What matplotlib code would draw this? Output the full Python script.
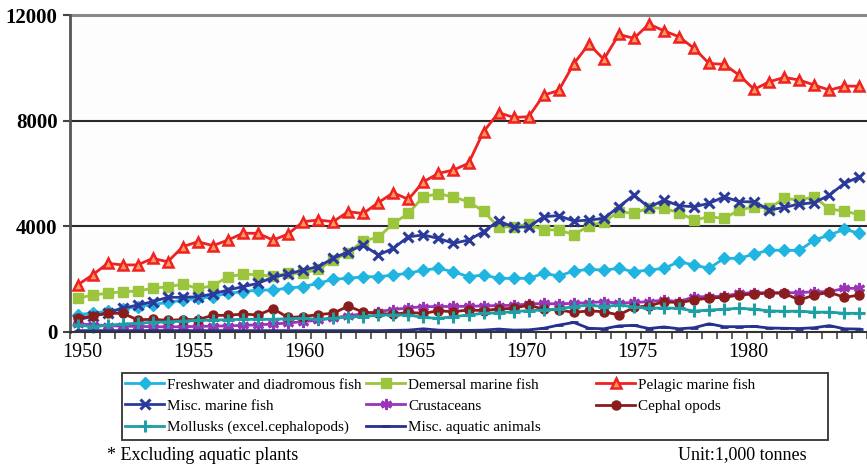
import numpy as np
import matplotlib.pyplot as plt
from matplotlib.patches import Rectangle

# catch by species group, 1,000 tonnes (one value per point on the category axis)
freshwater = [650, 700, 780, 860, 950, 1030, 1110, 1190, 1260, 1330, 1455, 1515, 1580, 1580, 1650,
              1710, 1830, 1990, 2020, 2083, 2083, 2148, 2212, 2337, 2400, 2273, 2083, 2148, 2022, 2022,
              2022, 2212, 2110, 2300, 2360, 2337, 2400, 2273, 2337, 2400, 2652, 2527, 2400, 2780, 2780,
              2943, 3094, 3080, 3080, 3473, 3663, 3879, 3727]
demersal = [1265, 1390, 1455, 1515, 1540, 1643, 1705, 1795, 1643, 1740, 2080, 2180, 2160, 2100, 2210,
            2210, 2370, 2700, 3000, 3440, 3576, 4100, 4484, 5114, 5230, 5100, 4924, 4565, 3960, 3980,
            4070, 3865, 3855, 3680, 4000, 4167, 4545, 4483, 4700, 4674, 4508, 4231, 4356, 4293, 4610,
            4735, 4674, 5052, 4988, 5114, 4636, 4583, 4420]
pelagic = [1770, 2150, 2590, 2530, 2530, 2780, 2650, 3220, 3410, 3260, 3470, 3730, 3730, 3470, 3700,
           4170, 4230, 4170, 4545, 4480, 4890, 5265, 5015, 5680, 6000, 6125, 6380, 7580, 8300, 8120,
           8145, 8965, 9140, 10150, 10900, 10320, 11265, 11115, 11655, 11400, 11175, 10735, 10165, 10130, 9720,
           9180, 9470, 9635, 9535, 9345, 9155, 9305, 9305]
misc_marine = [450, 580, 720, 886, 1011, 1136, 1303, 1303, 1326, 1428, 1580, 1705, 1833, 2060, 2186,
               2337, 2462, 2780, 3030, 3284, 2905, 3159, 3598, 3663, 3536, 3348, 3473, 3788, 4205, 3955,
               3977, 4356, 4400, 4190, 4231, 4293, 4735, 5178, 4710, 4988, 4773, 4735, 4863, 5114, 4924,
               4924, 4610, 4710, 4837, 4888, 5178, 5621, 5871]
crustaceans = [300, 260, 230, 210, 200, 190, 180, 190, 200, 210, 220, 240, 260, 290, 330,
               380, 440, 520, 600, 680, 760, 840, 900, 950, 950, 960, 960, 980, 990, 1000,
               1050, 1070, 1050, 1076, 1100, 1136, 1076, 1110, 1136, 1200, 1136, 1326, 1326, 1345, 1455,
               1477, 1477, 1477, 1477, 1515, 1515, 1643, 1643]
cephalopods = [507, 595, 697, 697, 450, 470, 430, 460, 460, 620, 620, 670, 633, 870, 540,
               570, 650, 697, 970, 740, 697, 660, 730, 697, 790, 758, 822, 800, 860, 886,
               1011, 850, 830, 730, 790, 758, 633, 920, 980, 1136, 1100, 1200, 1275, 1300, 1390,
               1430, 1465, 1455, 1200, 1390, 1495, 1300, 1390]
mollusks = [253, 190, 240, 290, 318, 360, 370, 405, 425, 443, 455, 470, 470, 470, 490,
            507, 470, 507, 570, 570, 633, 633, 633, 540, 507, 570, 633, 697, 720, 758,
            800, 822, 870, 947, 1011, 947, 1011, 940, 886, 900, 886, 780, 822, 850, 886,
            850, 790, 770, 780, 740, 740, 697, 697]
misc_aquatic = [40, 40, 40, 40, 40, 40, 40, 40, 40, 40, 40, 40, 40, 40, 40,
                40, 40, 40, 40, 40, 40, 50, 60, 110, 60, 50, 50, 60, 100, 60,
                70, 130, 250, 350, 130, 110, 220, 240, 120, 180, 110, 150, 300, 190, 190,
                200, 140, 130, 120, 150, 230, 110, 100]

year_labels = [1950, 1955, 1960, 1965, 1970, 1975, 1980]
y_ticks = [0, 4000, 8000, 12000]

plt.rcParams["font.family"] = ["Liberation Serif", "DejaVu Serif"]

W, H = 867, 468
fig = plt.figure(figsize=(W / 100, H / 100), dpi=100)
ax = fig.add_axes([70 / W, 136.3 / H, 797 / W, 316.7 / H])
ax.set_facecolor("#fdfdfd")

x = np.arange(len(pelagic))

series = [
    ("Freshwater and diadromous fish", freshwater, "#1fb5e0", "D", 6, "#1fb5e0", 1),
    ("Demersal marine fish", demersal, "#9bc53d", "s", 7, "#9bc53d", 1),
    ("Pelagic marine fish", pelagic, "#ee2222", "^", 7.5, "#ff9a5c", 1.8),
    ("Misc. marine fish", misc_marine, "#2b3a9a", "x", 7, "#2b3a9a", 2.2),
    ("Crustaceans", crustaceans, "#9b35b8", (6, 2, 0), 8, "#9b35b8", 2),
    ("Cephal opods", cephalopods, "#8b1c1c", "o", 6.5, "#8b1c1c", 1),
    ("Mollusks (excel.cephalopods)", mollusks, "#1e9fa5", "+", 8, "#1e9fa5", 2.2),
    ("Misc. aquatic animals", misc_aquatic, "#25308f", "_", 6, "#25308f", 2),
]

lines = {}
for label, vals, col, mk, ms, mfc, mew in series:
    (ln,) = ax.plot(x, vals, color=col, lw=2.0, marker=mk, ms=ms, mfc=mfc,
                    mec=col, mew=mew, label=label, clip_on=False)
    lines[label] = ln

ax.set_xlim(-0.5, (867 - 70) / 15.08 - 0.5)
ax.set_ylim(0, 12000)
ax.set_yticks(y_ticks)
ax.set_yticklabels([str(v) for v in y_ticks], fontsize=15, fontweight="bold")
ax.tick_params(axis="y", length=5, width=1.5, pad=4, color="#444")
ax.set_xticks(np.arange(-0.5, len(pelagic), 1))
ax.set_xticklabels([])
ax.tick_params(axis="x", length=5, width=1.2, color="#444")

for v in [4000, 8000]:
    ax.axhline(v, color="#2a2a2a", lw=1.5, zorder=1)
ax.axhline(12000, color="#888888", lw=2.2, zorder=1, clip_on=False)
for s in ["top", "right"]:
    ax.spines[s].set_visible(False)
ax.spines["left"].set_color("#555555")
ax.spines["left"].set_linewidth(2)
ax.spines["bottom"].set_color("#333333")
ax.spines["bottom"].set_linewidth(1.5)

# year labels sit on their own scale under the category axis
ax2 = ax.twiny()
ax2.xaxis.set_ticks_position("bottom")
ax2.xaxis.set_label_position("bottom")
ax2.set_xlim(1950 - 12 / 22.2, 1950 + (867 - 82) / 22.2)
ax2.set_xticks(year_labels)
ax2.set_xticklabels([str(y) for y in year_labels], fontsize=14.5)
ax2.tick_params(axis="x", length=0, pad=8)
for s in ax2.spines.values():
    s.set_visible(False)

# legend: three columns inside one frame
columns = [
    (125, ["Freshwater and diadromous fish", "Misc. marine fish", "Mollusks (excel.cephalopods)"]),
    (366, ["Demersal marine fish", "Crustaceans", "Misc. aquatic animals"]),
    (596, ["Pelagic marine fish", "Cephal opods"]),
]
for x0, labels in columns:
    fig.legend([lines[l] for l in labels], labels, loc="upper left",
               bbox_to_anchor=(x0 / W, (H - 378) / H), frameon=False, fontsize=10.9,
               handlelength=2.6, handletextpad=0.2, borderpad=0, borderaxespad=0,
               labelspacing=0.5, numpoints=1)
fig.patches.append(Rectangle((122 / W, (H - 440) / H), 706 / W, 67 / H,
                             transform=fig.transFigure, fill=False,
                             edgecolor="#333333", lw=1.3))

fig.text(107 / W, (H - 455) / H, "* Excluding aquatic plants", fontsize=13, va="center")
fig.text(807 / W, (H - 455) / H, "Unit:1,000 tonnes", fontsize=13, va="center", ha="right")

fig.savefig("out.png", dpi=100)
